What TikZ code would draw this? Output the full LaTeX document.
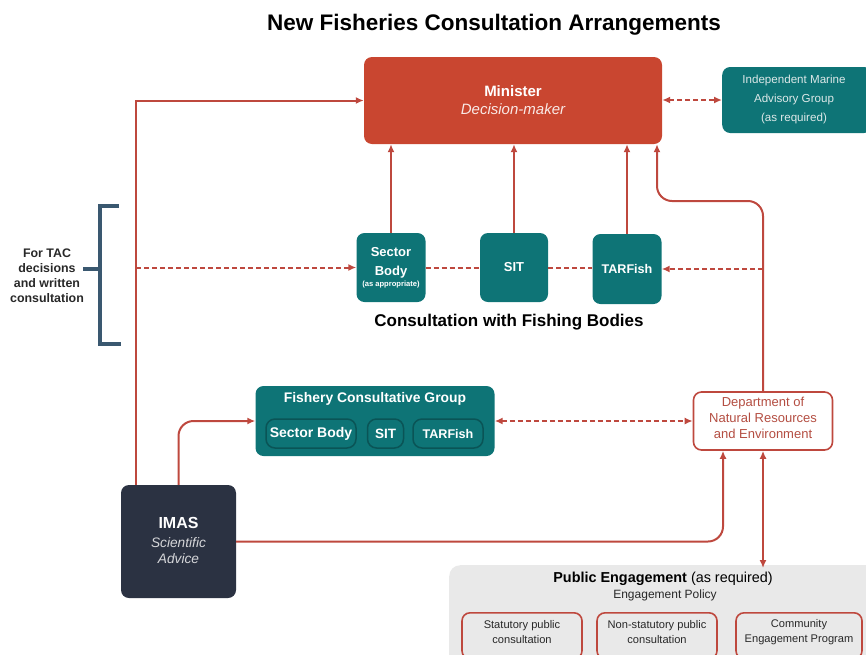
\documentclass[tikz,border=0pt]{standalone}
\usepackage{fontspec}
\setmainfont{Liberation Sans}
\usetikzlibrary{arrows.meta}
\definecolor{minred}{RGB}{201,70,48}
\definecolor{teal0}{RGB}{14,116,118}
\definecolor{tealdark}{RGB}{10,84,86}
\definecolor{linered}{RGB}{190,72,62}
\definecolor{navy}{RGB}{43,50,66}
\definecolor{bracketblue}{RGB}{58,88,112}
\definecolor{pegray}{RGB}{233,233,233}
\definecolor{dnretext}{RGB}{180,78,66}
\definecolor{lighttext}{RGB}{220,232,232}
\definecolor{darktext}{RGB}{40,40,40}
\begin{document}
\begin{tikzpicture}[x=1pt,y=-1pt,
  box/.style={rectangle, rounded corners=8pt, inner sep=0pt, align=center},
  tealbox/.style={box, fill=teal0, text=white},
  pill/.style={box, rounded corners=9pt, fill=teal0, draw=tealdark, line width=1.5pt, text=white},
  subbox/.style={box, fill=pegray, draw=linered, line width=1.6pt, minimum width=120pt, minimum height=46pt, text=darktext},
  tip/.tip={Latex[length=8pt,width=7pt]},
  arr/.style={draw=linered, line width=2pt, -tip},
  darr/.style={arr, dash pattern=on 5pt off 3pt},
  dline/.style={draw=linered, line width=2pt, dash pattern=on 5pt off 3pt},
  ddarr/.style={draw=linered, line width=2pt, dash pattern=on 5pt off 3pt, tip-tip},
  dblarr/.style={draw=linered, line width=2pt, tip-tip},
  bracketline/.style={draw=bracketblue, line width=3.5pt},
  lbl/.style={inner sep=0pt, align=center}
]
\useasboundingbox (0,0) rectangle (866,654);
\clip (0,0) rectangle (866,654);

% title
\node[lbl, font=\fontsize{22.5}{26}\selectfont\bfseries, text=black] (title) at (494,25) {New Fisheries Consultation Arrangements};

% Minister
\node[box, fill=minred, minimum width=298pt, minimum height=87pt] (minister) at (513,100.5) {};
\node[lbl, text=white, font=\fontsize{15}{18}\selectfont] (mintext) at (513,100) {\textbf{Minister}\\{\color{white!88!minred}\itshape Decision-maker}};

% Independent Marine Advisory Group
\node[tealbox, minimum width=150pt, minimum height=66pt, anchor=west] (imag) at (722,100) {};
\node[lbl, text=lighttext, font=\fontsize{11.6}{19}\selectfont] (imagtext) at (794,99) {Independent Marine\\Advisory Group\\(as required)};

% Fishing bodies
\node[tealbox, minimum width=69pt, minimum height=69pt] (sector) at (391,267.5) {};
\node[lbl, text=white, font=\fontsize{13}{19}\selectfont\bfseries] (sectortext) at (391,262.5) {Sector\\Body};
\node[lbl, text=white, font=\fontsize{7.6}{9}\selectfont\bfseries] (sectorsub) at (391,285) {(as appropriate)};
\node[tealbox, minimum width=68pt, minimum height=69pt, font=\fontsize{13}{15}\selectfont\bfseries] (sit) at (514,267.5) {SIT};
\node[tealbox, minimum width=69pt, minimum height=70pt, font=\fontsize{12.6}{15}\selectfont\bfseries] (tarfish) at (627,269) {TARFish};
\node[lbl, font=\fontsize{17}{20}\selectfont\bfseries, text=black] (fbtitle) at (509,322) {Consultation with Fishing Bodies};

% TAC bracket
\node[lbl, font=\fontsize{12.4}{15}\selectfont\bfseries, text=darktext] (tac) at (47,275.5) {For TAC\\decisions\\and written\\consultation};
\coordinate (brtop) at (100,206);
\coordinate (brbot) at (100,344);
\coordinate (brmid) at (100,269);
\draw[bracketline] ([xshift=19pt]brtop) -- (brtop) -- (brbot) -- ([xshift=21pt]brbot);
\draw[bracketline] (brmid) -- ([xshift=-17pt]brmid);

% Fishery Consultative Group
\node[tealbox, minimum width=239pt, minimum height=70pt] (fcg) at (375,421) {};
\node[lbl, text=white, font=\fontsize{13.9}{16}\selectfont\bfseries] (fcgtitle) at (375,399) {Fishery Consultative Group};
\node[pill, minimum width=90pt, minimum height=29pt, font=\fontsize{14}{16}\selectfont\bfseries] (isb) at (311,433.5) {Sector Body};
\node[pill, minimum width=36pt, minimum height=29pt, font=\fontsize{13.5}{16}\selectfont\bfseries] (isit) at (385.5,433.5) {SIT};
\node[pill, minimum width=70pt, minimum height=29pt, font=\fontsize{12.6}{16}\selectfont\bfseries] (itar) at (448,433.5) {TARFish};

% Department
\node[box, fill=white, draw=linered, line width=1.6pt, minimum width=139pt, minimum height=58pt] (dnre) at (763,421) {};
\node[lbl, text=dnretext, font=\fontsize{13}{16}\selectfont] (dnretext) at (763,418) {Department of\\Natural Resources\\and Environment};

% IMAS
\node[box, fill=navy, minimum width=115pt, minimum height=113pt] (imas) at (178.5,541.5) {};
\node[lbl, text=white, font=\fontsize{16}{18}\selectfont\bfseries] (imastitle) at (178.5,523) {IMAS};
\node[lbl, text=white!80!navy, font=\fontsize{13.7}{16}\selectfont\itshape] (imassub) at (178.5,551) {Scientific\\Advice};

% Public engagement
\node[box, rounded corners=11pt, fill=pegray, minimum width=440pt, minimum height=120pt, anchor=north west] (pe) at (449,565) {};
\node[lbl, text=black, font=\fontsize{14.4}{17}\selectfont] (petitle) at (663,579) {\textbf{Public Engagement} (as required)};
\node[lbl, text=darktext, font=\fontsize{12}{14}\selectfont] (pepolicy) at (665,595) {Engagement Policy};
\node[subbox, anchor=north] (stat) at (522,612) {};
\node[subbox, anchor=north] (nonstat) at (657,612) {};
\node[subbox, anchor=north, minimum width=126pt] (comm) at (799,612) {};
\node[lbl, text=darktext, font=\fontsize{11.1}{15}\selectfont] (stattext) at (522,632.5) {Statutory public\\consultation};
\node[lbl, text=darktext, font=\fontsize{11.1}{15}\selectfont] (nonstattext) at (657,632.5) {Non-statutory public\\consultation};
\node[lbl, text=darktext, font=\fontsize{11.1}{15}\selectfont] (commtext) at (799,632.5) {Community\\Engagement Program};

% connectors
\coordinate (leftline) at (136,267.5);
\draw[arr] (imas.north -| leftline) |- (minister.west);
\draw[darr] (leftline) -- (sector.west);
\draw[dline] (sector.east) -- (sit.west);
\draw[dline] (sit.east) -- (sit.east -| tarfish.west);
\draw[darr] (dnre.north |- tarfish.east) -- (tarfish.east);
\draw[arr] (sector.north) -- (sector.north |- minister.south);
\draw[arr] (sit.north) -- (sit.north |- minister.south);
\draw[arr] (tarfish.north) -- (tarfish.north |- minister.south);
\coordinate (mj) at (657,201);
\draw[arr, rounded corners=15pt] (dnre.north) |- (mj) -- (mj |- minister.south);
\draw[ddarr] (minister.east |- imag.west) -- (imag.west);
\draw[ddarr] (fcg.east) -- (dnre.west);
\draw[arr, rounded corners=15pt] (imas.north) |- (fcg.west);
\coordinate (dj) at (723,450);
\draw[arr, rounded corners=15pt] (imas.east) -| (dj |- dnre.south);
\draw[dblarr] (dnre.south) -- ([yshift=-3pt]dnre.south |- pe.north);
\end{tikzpicture}
\end{document}
